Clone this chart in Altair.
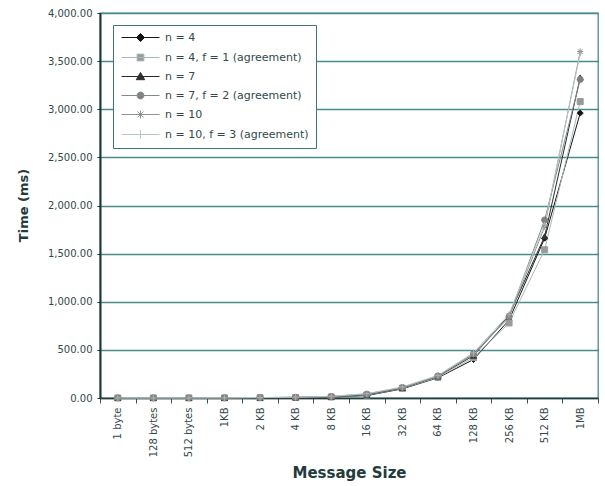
import altair as alt
import pandas as pd

# Message sizes on the x axis
sizes = ["1 byte", "128 bytes", "512 bytes", "1KB", "2 KB", "4 KB", "8 KB",
         "16 KB", "32 KB", "64 KB", "128 KB", "256 KB", "512 KB", "1MB"]

# Series names, in legend order
series = ["n = 4", "n = 4, f = 1 (agreement)", "n = 7",
          "n = 7, f = 2 (agreement)", "n = 10", "n = 10, f = 3 (agreement)"]

# Latency in ms for each series, one value per message size
t_n4 = [0.5, 0.6, 0.7, 1.0, 2, 4, 9, 25, 95, 210, 400, 810, 1660, 2960]
t_n4_f1 = [0.6, 0.7, 0.8, 1.2, 3, 5, 11, 30, 100, 215, 420, 780, 1540, 3080]
t_n7 = [0.8, 0.9, 1.0, 1.5, 3, 6, 13, 35, 105, 225, 440, 860, 1680, 3330]
t_n7_f2 = [1.0, 1.1, 1.2, 1.8, 4, 7, 15, 40, 110, 230, 460, 850, 1850, 3310]
t_n10 = [1.0, 1.2, 1.4, 2.0, 4, 8, 16, 42, 108, 228, 450, 840, 1780, 3600]
t_n10_f3 = [1.2, 1.4, 1.6, 2.3, 5, 9, 18, 45, 115, 235, 470, 870, 1800, 3580]

values = [t_n4, t_n4_f1, t_n7, t_n7_f2, t_n10, t_n10_f3]

rows = []
for name, vals in zip(series, values):
    for s, v in zip(sizes, vals):
        rows.append({"size": s, "series": name, "time": v})
df = pd.DataFrame(rows)

line_colors = ["#151515", "#a9b9b9", "#2a2a2a", "#7f8a8a", "#8a9494", "#b9c6c6"]
mark_colors = ["#151515", "#9a9a9a", "#333333", "#808080", "#8c8c8c", "#b0b0b0"]

asterisk = "M-1,0H1M0,-1V1M-0.7,-0.7L0.7,0.7M-0.7,0.7L0.7,-0.7"
plus = "M-1,0H1M0,-1V1"
shapes = ["diamond", "square", "triangle-up", "circle", asterisk, plus]

# Legend glyphs: a short line with the marker in its middle
legend_shapes = [
    "M-1,0H8.5M3.75,-1L4.75,0L3.75,1L2.75,0Z",
    "M-1,0H8.5M2.9,-0.85H4.6V0.85H2.9Z",
    "M-1,0H8.5M3.75,-1L4.8,0.8H2.7Z",
    "M-1,0H8.5M2.9,0A0.85,0.85 0 1,0 4.6,0A0.85,0.85 0 1,0 2.9,0Z",
    "M-1,0H8.5M3,-0.75L4.5,0.75M3,0.75L4.5,-0.75M3.75,-1V1",
    "M-1,0H8.5M3.75,-1.1V1.1",
]

text_color = "#2f4a4a"
grid_color = "#4a8a8a"
font = "DejaVu Sans"

x_enc = alt.X(
    "size:N",
    sort=sizes,
    scale=alt.Scale(type="band", paddingInner=0, paddingOuter=0, domain=sizes),
    bandPosition=0.5,
    axis=alt.Axis(
        title="Message Size",
        labelAngle=270,
        tickBand="extent",
        tickSize=5,
        tickColor="#2f5555",
        labelPadding=4,
        labelFontSize=10,
        labelFont=font,
        labelColor=text_color,
        domainColor="#2a3a3a",
        domainWidth=1.5,
        grid=False,
        titleFont=font,
        titleFontSize=15,
        titleFontWeight="bold",
        titleColor="#223b3b",
        titleY=74,
        titleBaseline="middle",
    ),
)

y_enc = alt.Y(
    "time:Q",
    scale=alt.Scale(domain=[0, 4000], nice=False),
    axis=alt.Axis(
        title="Time (ms)",
        values=list(range(0, 4001, 500)),
        format=",.2f",
        tickSize=3,
        tickColor="#1d3b3b",
        labelPadding=5,
        labelFontSize=10,
        labelFont=font,
        labelColor=text_color,
        domainColor="#1d3333",
        domainWidth=2,
        grid=True,
        gridColor=grid_color,
        gridWidth=1.3,
        titleFont=font,
        titleFontSize=13,
        titleFontWeight="bold",
        titleColor="#223b3b",
        titleX=-77,
        titleY=192,
        titleAngle=270,
        titleBaseline="middle",
        titleAlign="center",
    ),
)

base = alt.Chart(df)

lines = base.mark_line(strokeWidth=1).encode(
    x=x_enc,
    y=y_enc,
    color=alt.Color("series:N", scale=alt.Scale(domain=series, range=line_colors), legend=None),
    detail="series:N",
)

points = base.mark_point(filled=True, strokeWidth=1, opacity=1).encode(
    x=x_enc,
    y=y_enc,
    shape=alt.Shape("series:N", scale=alt.Scale(domain=series, range=shapes), legend=None),
    fill=alt.Fill("series:N", scale=alt.Scale(domain=series, range=mark_colors), legend=None),
    stroke=alt.Stroke("series:N", scale=alt.Scale(domain=series, range=mark_colors), legend=None),
    size=alt.value(36),
)

legend_cfg = alt.Legend(
    title=None,
    orient="none",
    legendX=13,
    legendY=12,
    padding=7,
    strokeColor="#3d7575",
    fillColor="white",
    symbolSize=64,
    symbolStrokeWidth=1,
    labelOffset=34,
    labelFont=font,
    labelFontSize=11,
    labelColor=text_color,
    rowPadding=7,
    symbolLimit=0,
)

legend_layer = base.transform_filter("false").mark_point(filled=True, strokeWidth=1, opacity=1).encode(
    x=x_enc,
    y=y_enc,
    shape=alt.Shape("series:N", scale=alt.Scale(domain=series, range=legend_shapes), legend=legend_cfg),
    fill=alt.Fill("series:N", scale=alt.Scale(domain=series, range=mark_colors), legend=legend_cfg),
    stroke=alt.Stroke("series:N", scale=alt.Scale(domain=series, range=line_colors), legend=legend_cfg),
    size=alt.value(64),
)

chart = (
    alt.layer(lines, points, legend_layer)
    .resolve_scale(shape="independent", fill="independent", stroke="independent", color="independent")
    .properties(
        width=498,
        height=385,
        autosize=alt.AutoSizeParams(type="none"),
        padding={"left": 100, "top": 13, "right": 7, "bottom": 88},
        background="white",
    )
    .configure_view(stroke=grid_color, strokeWidth=1.3)
)

chart.save("out.html", embed_options={"renderer": "svg", "actions": False})
